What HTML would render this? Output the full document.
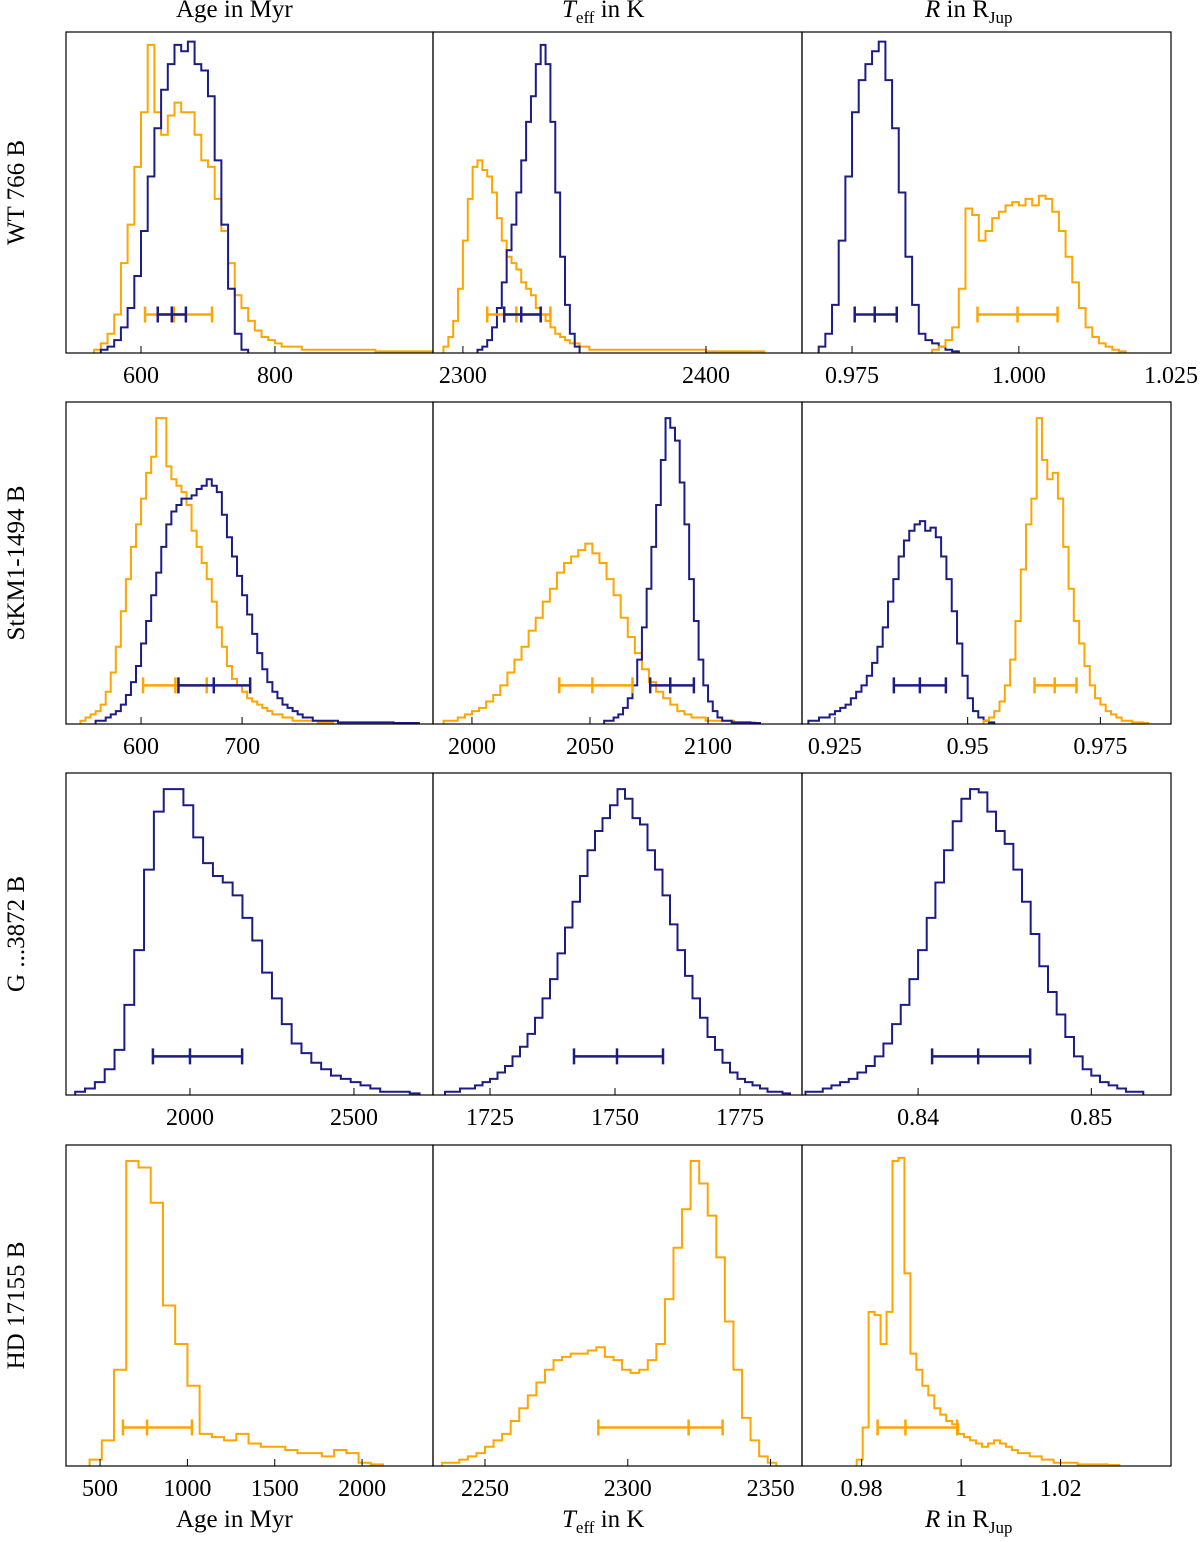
<!DOCTYPE html>
<html><head><meta charset="utf-8"><style>
html,body{margin:0;padding:0;background:#fff;}
svg{display:block;font-family:"Liberation Serif",serif;}
</style></head><body>
<svg id="fig" width="1200" height="1542" viewBox="0 0 1200 1542" xmlns="http://www.w3.org/2000/svg"></svg>
<script>
// ---- data ----
const rowNames = ["WT 766 B","StKM1-1494 B","G ...3872 B","HD 17155 B"];
const domains = [
 [[488,1036],[2287.7,2439.5],[0.9675,1.0228]],
 [[525.7,889],[1983.5,2139.8],[0.9188,0.9883]],
 [[1622,2741],[1713.6,1787.4],[0.8333,0.8546]],
 [[305,2406],[2231.8,2361],[0.968,1.0422]]
];
const tickVals = [
 [[600,800],[2300,2400],[0.975,1.0,1.025]],
 [[600,700],[2000,2050,2100],[0.925,0.95,0.975]],
 [[2000,2500],[1725,1750,1775],[0.84,0.85]],
 [[500,1000,1500,2000],[2250,2300,2350],[0.98,1,1.02]]
];
const tickLabels = [
 [["600","800"],["2300","2400"],["0.975","1.000","1.025"]],
 [["600","700"],["2000","2050","2100"],["0.925","0.95","0.975"]],
 [["2000","2500"],["1725","1750","1775"],["0.84","0.85"]],
 [["500","1000","1500","2000"],["2250","2300","2350"],["0.98","1","1.02"]]
];
// histograms: [row, col, color, start, binWidth, heights(% of panel height)]
const blue_r1c1 = [1,2,4,8,14,24,38,55,70,82,90,96,94,97,90,88,80,60,40,20,6,1];
const orange_r1c1 = [1,3,6,12,28,40,58,75,96,75,68,74,78,75,75,68,60,58,48,38,28,18,14,10,7,5,4,3,2,2,2,1,1,1,1,1,1,1,1,1,1,1,0.5,0.5,0.5,0.5,0.5,0.5,0.5,0.5,0.5,0.3,0.3];
const blue_r1c2 = [1,2,4,8,14,22,32,40,50,60,72,80,90,96,90,72,50,30,15,6,2];
const orange_r1c2 = [2,5,10,20,35,48,58,60,57,55,50,42,35,30,28,26,22,20,18,14,12,10,8,6,5,4,3,3,2,2,1,1,1,1,1,1,1,1,1,1,1,1,1,1,1,1,1,1,1,1,1,1,1,1,0.5,0.5,0.5,0.5,0.5,0.5,0.5,0.5,0.5,0.5,0.5,0.5];
const blue_r1c3 = [2,6,15,35,55,75,85,90,94,97,85,70,50,30,15,6,4,3,2,1,0.5];
const orange_r1c3 = [1,2,4,8,20,45,43,35,38,42,44,46,47,46,48,46,49,48,44,38,30,22,14,8,5,3,2,1,0.5];
const orange_r2c1 = [1,2,3,4,6,10,16,24,35,45,55,62,70,78,83,95,95,80,76,74,72,68,60,55,50,45,38,30,24,18,14,12,10,8,7,6,5,4,3,3,2,2,1,1,1,1,1,0.5,0.5,0.5];
const blue_r2c1 = [1,1,2,3,4,6,9,13,18,25,32,40,47,55,62,66,68,70,70,71,73,74,76,74,72,65,58,52,46,40,34,28,22,17,13,10,8,6,5,4,3,2,2,1,1,1,1,1,0.5,0.5,0.5,0.5,0.5,0.5,0.5,0.5,0.5,0.5,0.5,0.3,0.3,0.3,0.3,0.3];
const orange_r2c2 = [1,1,2,3,4,5,7,9,12,16,20,24,29,33,38,42,47,50,52,54,56,53,50,45,40,33,27,22,17,13,10,8,6,4,3,2,2,1,1,1,1,0.5,0.5,0.5];
const blue_r2c2 = [1,1,2,3,5,8,12,20,30,42,55,68,82,95,92,88,75,62,45,32,20,12,7,4,2,1,1,0.5,0.5,0.5,0.5,0.3,0.3];
const blue_r2c3 = [1,1,2,2,3,4,5,6,8,10,12,15,19,24,30,38,45,52,57,60,62,63,60,61,58,52,45,35,25,15,8,4,2,1,0.5];
const orange_r2c3 = [1,2,4,7,12,20,32,48,62,70,95,82,76,78,70,55,42,32,25,18,12,8,6,4,3,2,1,1,0.5,0.5,0.3];
const blue_r3c1 = [1,2,4,8,14,28,45,70,88,95,95,90,80,72,68,66,62,55,48,38,30,22,16,13,10,8,6,5,4,3,2,1,1,1,0.5];
const blue_r3c2 = [1,1,2,2,3,4,5,7,9,12,15,19,24,30,36,44,52,60,68,76,82,86,90,95,92,86,84,76,70,62,53,45,37,30,24,18,14,10,7,5,4,3,2,1,1,0.5];
const blue_r3c3 = [1,1,2,3,4,5,7,9,12,16,22,28,36,45,55,66,76,85,92,95,94,88,82,78,70,60,50,40,32,25,18,12,8,6,4,3,2,1,1];
const orange_r4c1 = [2,8,30,95,93,82,50,38,25,10,9,8,10,7,6,6,5,4,4,3,5,4,1,0.5];
const orange_r4c2 = [1,1,2,3,4,6,8,10,14,18,22,26,30,33,34,35,35,36,37,34,33,30,29,30,33,38,52,68,80,95,88,78,65,45,30,15,8,3,1];
const orange_r4c3 = [2,12,48,47,38,48,95,96,60,35,30,25,22,18,16,14,13,10,9,8,7,6,7,8,7,6,5,4,4,3,3,2,2,1,1,1,1,0.5,0.5,0.5,0.5,0.5,0.3,0.3];
const hists = [
 [0,0,"orange",530,10,orange_r1c1],[0,0,"blue",540,10,blue_r1c1],
 [0,1,"orange",2292,2,orange_r1c2],[0,1,"blue",2306,2,blue_r1c2],
 [0,2,"blue",0.970,0.001,blue_r1c3],[0,2,"orange",0.987,0.001,orange_r1c3],
 [1,0,"orange",540,5,orange_r2c1],[1,0,"blue",555,5,blue_r2c1],
 [1,1,"orange",1988,3,orange_r2c2],[1,1,"blue",2056,2,blue_r2c2],
 [1,2,"blue",0.920,0.001,blue_r2c3],[1,2,"orange",0.953,0.001,orange_r2c3],
 [2,0,"blue",1650,30,blue_r3c1],
 [2,1,"blue",1716,1.5,blue_r3c2],
 [2,2,"blue",0.8335,0.0005,blue_r3c3],
 [3,0,"orange",440,70,orange_r4c1],
 [3,1,"orange",2235,3,orange_r4c2],
 [3,2,"orange",0.979,0.0012,orange_r4c3]
];
// error bars: [row, col, color, lo, mid, hi]
const errbars = [
 [0,0,"orange",606,649,706],[0,0,"blue",625,646,667],
 [0,1,"orange",2310,2322,2336],[0,1,"blue",2317,2324,2332],
 [0,2,"blue",0.9754,0.9784,0.9817],[0,2,"orange",0.9938,0.9998,1.0058],
 [1,0,"orange",602,634,665],[1,0,"blue",637,672,708],
 [1,1,"orange",2037,2051,2068],[1,1,"blue",2075.5,2084,2094],
 [1,2,"blue",0.9361,0.9410,0.9459],[1,2,"orange",0.9626,0.9664,0.9705],
 [2,0,"blue",1887,2000,2159],[2,1,"blue",1741.8,1750.4,1759.6],[2,2,"blue",0.84081,0.84347,0.84647],
 [3,0,"orange",631,769,1026],[3,1,"orange",2289.7,2321.3,2333.2],[3,2,"orange",0.9832,0.9888,0.9992]
];
// ---- layout ----
const colX = [[66,433],[433,802],[802,1171]];
const rowY = [[32,353],[402,724],[773,1095],[1145,1466]];
const COLORS = {blue:"#1c1c86",orange:"#ffa500"};
const NS = "http://www.w3.org/2000/svg";
const svg = document.getElementById("fig");
function mk(tag, attrs, parent){const e=document.createElementNS(NS,tag);for(const k in attrs)e.setAttribute(k,attrs[k]);(parent||svg).appendChild(e);return e;}
function xs(r,c){const [d0,d1]=domains[r][c];const [p0,p1]=colX[c];return v=>p0+(v-d0)/(d1-d0)*(p1-p0);}
function ys(r){const [t,b]=rowY[r];return h=>b-h/100*(b-t);}

const defs = mk("defs",{});
for(let r=0;r<4;r++)for(let c=0;c<3;c++){
  const cp=mk("clipPath",{id:`clip-${r}-${c}`},defs);
  mk("rect",{x:colX[c][0],y:rowY[r][0],width:colX[c][1]-colX[c][0],height:rowY[r][1]-rowY[r][0]},cp);
}
hists.forEach(([r,c,col,s,w,hs])=>{
  const X=xs(r,c),Y=ys(r),b=rowY[r][1];
  let d=`M${X(s)},${b}`;
  hs.forEach((h,i)=>{d+=` V${Y(h)} H${X(s+(i+1)*w)}`;});
  d+=` V${b}`;
  const p=mk("path",{d:d,fill:"none",stroke:COLORS[col],"stroke-width":2,"clip-path":`url(#clip-${r}-${c})`});
  
  
});
errbars.forEach(([r,c,col,lo,mid,hi])=>{
  const X=xs(r,c),b=rowY[r][1],H=b-rowY[r][0],y=b-0.12*H;
  const g=mk("g",{stroke:COLORS[col],"stroke-width":2.5});
  
  
  mk("line",{x1:X(lo),x2:X(hi),y1:y,y2:y},g);
  [lo,mid,hi].forEach(v=>mk("line",{x1:X(v),x2:X(v),y1:y-8,y2:y+8},g));
});
for(let r=0;r<4;r++)for(let c=0;c<3;c++){
  const [x0,x1]=colX[c],[y0,y1]=rowY[r],X=xs(r,c);
  const f=mk("rect",{x:x0,y:y0,width:x1-x0,height:y1-y0,fill:"none",stroke:"#000","stroke-width":1.2});
  
  
  tickVals[r][c].forEach((v,i)=>{
    const px=X(v);
    if(px<=x1) mk("line",{x1:px,x2:px,y1:y1,y2:y1-7,stroke:"#000","stroke-width":1});
    const lx=Math.min(px,1171);
    const t=mk("text",{x:lx,y:y1+30,"text-anchor":"middle","font-size":24,fill:"#000"});
    t.textContent=tickLabels[r][c][i];
    
    
  });
}
rowNames.forEach((n,r)=>{
  const cy=(rowY[r][0]+rowY[r][1])/2;
  const t=mk("text",{x:0,y:0,transform:`translate(24,${cy}) rotate(-90)`,"text-anchor":"middle","font-size":25,fill:"#000"});
  t.textContent=n;
  
  
});
</script>
<div style="position:absolute;left:0;top:0;width:1200px;font-family:'Liberation Serif',serif;font-size:25px;">
  <div style="position:absolute;left:176px;top:-4px;">Age in Myr</div>
  <div style="position:absolute;left:562px;top:-4px;"><i>T</i><sub style="font-size:17px">eff</sub> in K</div>
  <div style="position:absolute;left:925px;top:-4px;"><i>R</i> in R<sub style="font-size:17px">Jup</sub></div>
  <div style="position:absolute;left:176px;top:1506px;">Age in Myr</div>
  <div style="position:absolute;left:562px;top:1506px;"><i>T</i><sub style="font-size:17px">eff</sub> in K</div>
  <div style="position:absolute;left:925px;top:1506px;"><i>R</i> in R<sub style="font-size:17px">Jup</sub></div>
</div>
</body></html>
